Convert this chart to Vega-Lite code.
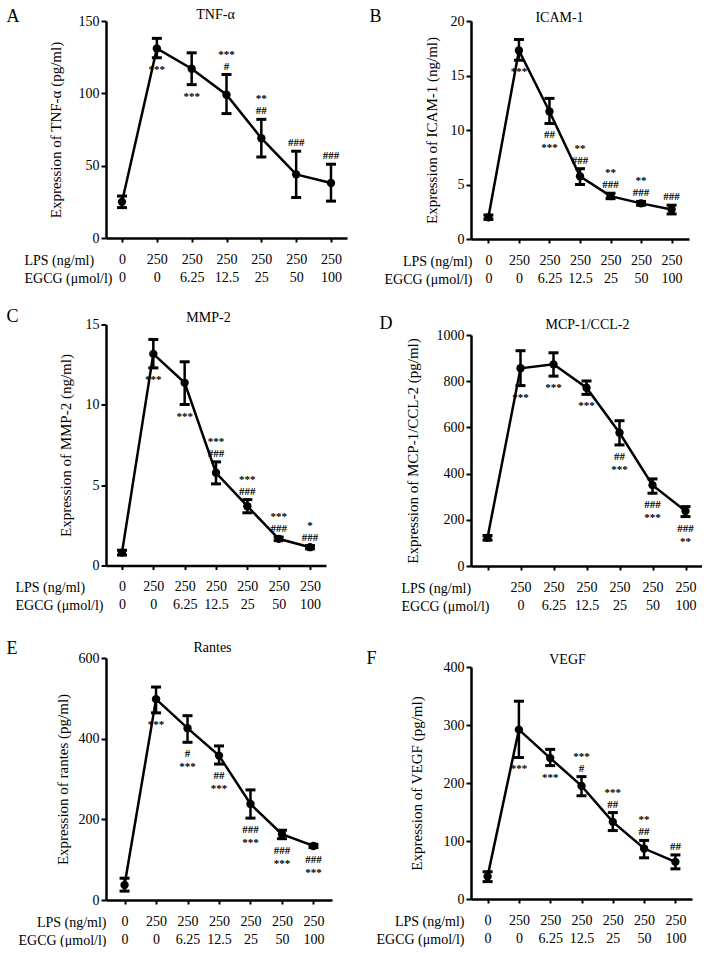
{
"$schema":"https://vega.github.io/schema/vega-lite/v6.json",
"background":"white",
"padding":{"left":6,"top":-4,"right":0,"bottom":0},
"config":{"font":"Liberation Serif","view":{"stroke":null},
 "axis":{"grid":false,"domainColor":"black","tickColor":"black","labelColor":"black","titleColor":"black","titleFontWeight":"normal","domainWidth":2.5,"tickWidth":2,"labelFontSize":14,"titleFontSize":14},
 "axisX":{"labelAngle":0,"tickSize":4,"labelPadding":10,"labelBaseline":"top","labelLineHeight":18,"titleLineHeight":18,"titleBaseline":"top","titleY":15},
 "axisY":{"tickSize":5,"labelPadding":2,"titleFontSize":15,"titleBaseline":"middle"},
 "text":{"fontSize":11,"fontWeight":"bold","baseline":"middle","color":"black"}
},
"datasets":{
"A":[
{"g":"0|0","m":25,"lo":21,"hi":29,"u1":"","u2":"","d1":"","d2":""},
{"g":"250|0","m":131,"lo":124.6,"hi":138,"u1":"","u2":"","d1":"***","d2":""},
{"g":"250|6.25","m":117,"lo":106,"hi":128,"u1":"","u2":"","d1":"***","d2":""},
{"g":"250|12.5","m":99,"lo":86,"hi":113,"u1":"***","u2":"#","d1":"","d2":""},
{"g":"250|25","m":69,"lo":56,"hi":82,"u1":"**","u2":"##","d1":"","d2":""},
{"g":"250|50","m":44,"lo":28,"hi":60,"u1":"","u2":"###","d1":"","d2":""},
{"g":"250|100","m":38,"lo":25.5,"hi":51,"u1":"","u2":"###","d1":"","d2":""}],
"B":[
{"g":"0|0","m":2.0,"lo":1.8,"hi":2.2,"u1":"","u2":"","d1":"","d2":""},
{"g":"250|0","m":17.3,"lo":16.4,"hi":18.3,"u1":"","u2":"","d1":"***","d2":""},
{"g":"250|6.25","m":11.7,"lo":10.6,"hi":12.9,"u1":"","u2":"","d1":"##","d2":"***"},
{"g":"250|12.5","m":5.75,"lo":5.0,"hi":6.45,"u1":"**","u2":"###","d1":"","d2":""},
{"g":"250|25","m":3.93,"lo":3.7,"hi":4.2,"u1":"**","u2":"###","d1":"","d2":""},
{"g":"250|50","m":3.27,"lo":3.1,"hi":3.45,"u1":"**","u2":"###","d1":"","d2":""},
{"g":"250|100","m":2.7,"lo":2.3,"hi":3.1,"u1":"","u2":"###","d1":"","d2":""}],
"C":[
{"g":"0|0","m":0.8,"lo":0.65,"hi":0.95,"u1":"","u2":"","d1":"","d2":""},
{"g":"250|0","m":13.17,"lo":12.3,"hi":14.07,"u1":"","u2":"","d1":"***","d2":""},
{"g":"250|6.25","m":11.37,"lo":10.02,"hi":12.68,"u1":"","u2":"","d1":"***","d2":""},
{"g":"250|12.5","m":5.77,"lo":5.08,"hi":6.45,"u1":"***","u2":"###","d1":"","d2":""},
{"g":"250|25","m":3.69,"lo":3.28,"hi":4.1,"u1":"***","u2":"###","d1":"","d2":""},
{"g":"250|50","m":1.66,"lo":1.55,"hi":1.77,"u1":"***","u2":"###","d1":"","d2":""},
{"g":"250|100","m":1.14,"lo":1.04,"hi":1.24,"u1":"*","u2":"###","d1":"","d2":""}],
"D":[
{"g":" | ","m":122,"lo":112,"hi":132,"u1":"","u2":"","d1":"","d2":""},
{"g":"250|0","m":856,"lo":781,"hi":932,"u1":"","u2":"","d1":"***","d2":""},
{"g":"250|6.25","m":873,"lo":822,"hi":923,"u1":"","u2":"","d1":"***","d2":""},
{"g":"250|12.5","m":772,"lo":743,"hi":801,"u1":"","u2":"","d1":"***","d2":""},
{"g":"250|25","m":577,"lo":524,"hi":629,"u1":"","u2":"","d1":"##","d2":"***"},
{"g":"250|50","m":350,"lo":315,"hi":377,"u1":"","u2":"","d1":"###","d2":"***"},
{"g":"250|100","m":238,"lo":214,"hi":257,"u1":"","u2":"","d1":"###","d2":"**"}],
"E":[
{"g":"0|0","m":37,"lo":22,"hi":54,"u1":"","u2":"","d1":"","d2":""},
{"g":"250|0","m":498,"lo":464,"hi":528,"u1":"","u2":"","d1":"***","d2":""},
{"g":"250|6.25","m":426,"lo":391,"hi":457,"u1":"","u2":"","d1":"#","d2":"***"},
{"g":"250|12.5","m":358,"lo":337,"hi":382,"u1":"","u2":"","d1":"##","d2":"***"},
{"g":"250|25","m":238,"lo":203,"hi":273,"u1":"","u2":"","d1":"###","d2":"***"},
{"g":"250|50","m":163,"lo":152,"hi":173,"u1":"","u2":"","d1":"###","d2":"***"},
{"g":"250|100","m":134,"lo":130,"hi":138,"u1":"","u2":"","d1":"###","d2":"***"}],
"F":[
{"g":"0|0","m":39,"lo":30,"hi":47,"u1":"","u2":"","d1":"","d2":""},
{"g":"250|0","m":292,"lo":244,"hi":341,"u1":"","u2":"","d1":"***","d2":""},
{"g":"250|6.25","m":243,"lo":230,"hi":258,"u1":"","u2":"","d1":"***","d2":""},
{"g":"250|12.5","m":195,"lo":178,"hi":211,"u1":"***","u2":"#","d1":"","d2":""},
{"g":"250|25","m":133,"lo":118,"hi":149,"u1":"***","u2":"##","d1":"","d2":""},
{"g":"250|50","m":87,"lo":71,"hi":101,"u1":"**","u2":"##","d1":"","d2":""},
{"g":"250|100","m":64,"lo":52,"hi":76,"u1":"","u2":"##","d1":"","d2":""}]
},
"spacing":19,
"hconcat":[
{"spacing":18.5,"vconcat":[
{"width":241,"height":217,"data":{"name":"A"},
 "resolve":{"axis":{"x":"independent","y":"independent"}},
 "layer":[
  {"encoding":{"x":{"field":"g","type":"ordinal","sort":null,"scale":{"type":"point","padding":0.46},"axis":{"labelExpr":"split(datum.label,'|')","title":["LPS (ng/ml)","EGCG (μmol/l)"],"titleX":-82,"titleAlign":"left"}}},
   "layer":[
    {"mark":{"type":"line","color":"black","strokeWidth":2.5},"encoding":{"y":{"field":"m","type":"quantitative","scale":{"domain":[0,150],"nice":false},"axis":{"values":[0,50,100,150],"title":"Expression of TNF-α (pg/ml)","titleX":-51}}}},
    {"mark":{"type":"rule","color":"black","strokeWidth":2.5},"encoding":{"y":{"field":"lo","type":"quantitative"},"y2":{"field":"hi"}}},
    {"mark":{"type":"tick","color":"black","thickness":3,"size":10,"opacity":1},"encoding":{"y":{"field":"lo","type":"quantitative"}}},
    {"mark":{"type":"tick","color":"black","thickness":3,"size":10,"opacity":1},"encoding":{"y":{"field":"hi","type":"quantitative"}}},
    {"mark":{"type":"point","filled":true,"color":"black","opacity":1,"size":70},"encoding":{"y":{"field":"m","type":"quantitative"}}},
    {"mark":{"type":"text","dy":-20},"encoding":{"y":{"field":"hi","type":"quantitative"},"text":{"field":"u1"}}},
    {"mark":{"type":"text","dy":-8},"encoding":{"y":{"field":"hi","type":"quantitative"},"text":{"field":"u2"}}},
    {"mark":{"type":"text","dy":12},"encoding":{"y":{"field":"lo","type":"quantitative"},"text":{"field":"d1"}}},
    {"mark":{"type":"text","dy":25},"encoding":{"y":{"field":"lo","type":"quantitative"},"text":{"field":"d2"}}}
   ]},
  {"mark":{"type":"point","opacity":0},"encoding":{
    "x":{"field":"g","type":"ordinal","sort":null,"scale":{"type":"point","padding":0.46},"axis":{"orient":"top","domain":false,"ticks":true,"tickOpacity":0,"tickSize":25,"labels":false,"title":"TNF-α","titleX":109,"titleY":-3,"titleAlign":"center","titleBaseline":"alphabetic","titleFontSize":14}},
    "y":{"field":"m","type":"quantitative","scale":{"domain":[0,150],"nice":false},"axis":{"orient":"right","domain":false,"ticks":false,"labels":false,"title":"A","titleX":-341,"titleY":0,"titleAngle":0,"titleAlign":"left","titleBaseline":"alphabetic","titleFontSize":18}}}}
 ]},
{"width":220,"height":241,"data":{"name":"C"},
 "resolve":{"axis":{"x":"independent","y":"independent"}},
 "layer":[
  {"encoding":{"x":{"field":"g","type":"ordinal","sort":null,"scale":{"type":"point","padding":0.51},"axis":{"labelExpr":"split(datum.label,'|')","title":["LPS (ng/ml)","EGCG (μmol/l)"],"titleX":-91,"titleAlign":"left"}}},
   "layer":[
    {"mark":{"type":"line","color":"black","strokeWidth":2.5},"encoding":{"y":{"field":"m","type":"quantitative","scale":{"domain":[0,15],"nice":false},"axis":{"values":[0,5,10,15],"title":"Expression of MMP-2 (ng/ml)","titleX":-41}}}},
    {"mark":{"type":"rule","color":"black","strokeWidth":2.5},"encoding":{"y":{"field":"lo","type":"quantitative"},"y2":{"field":"hi"}}},
    {"mark":{"type":"tick","color":"black","thickness":3,"size":10,"opacity":1},"encoding":{"y":{"field":"lo","type":"quantitative"}}},
    {"mark":{"type":"tick","color":"black","thickness":3,"size":10,"opacity":1},"encoding":{"y":{"field":"hi","type":"quantitative"}}},
    {"mark":{"type":"point","filled":true,"color":"black","opacity":1,"size":70},"encoding":{"y":{"field":"m","type":"quantitative"}}},
    {"mark":{"type":"text","dy":-20},"encoding":{"y":{"field":"hi","type":"quantitative"},"text":{"field":"u1"}}},
    {"mark":{"type":"text","dy":-8},"encoding":{"y":{"field":"hi","type":"quantitative"},"text":{"field":"u2"}}},
    {"mark":{"type":"text","dy":12},"encoding":{"y":{"field":"lo","type":"quantitative"},"text":{"field":"d1"}}},
    {"mark":{"type":"text","dy":25},"encoding":{"y":{"field":"lo","type":"quantitative"},"text":{"field":"d2"}}}
   ]},
  {"mark":{"type":"point","opacity":0},"encoding":{
    "x":{"field":"g","type":"ordinal","sort":null,"scale":{"type":"point","padding":0.51},"axis":{"orient":"top","domain":false,"ticks":true,"tickOpacity":0,"tickSize":21,"labels":false,"title":"MMP-2","titleX":102,"titleY":-3,"titleAlign":"center","titleBaseline":"alphabetic","titleFontSize":14}},
    "y":{"field":"m","type":"quantitative","scale":{"domain":[0,15],"nice":false},"axis":{"orient":"right","domain":false,"ticks":false,"labels":false,"title":"C","titleX":-320,"titleY":-3,"titleAngle":0,"titleAlign":"left","titleBaseline":"alphabetic","titleFontSize":18}}}}
 ]},
{"width":226,"height":242,"data":{"name":"E"},
 "resolve":{"axis":{"x":"independent","y":"independent"}},
 "layer":[
  {"encoding":{"x":{"field":"g","type":"ordinal","sort":null,"scale":{"type":"point","padding":0.59},"axis":{"labelExpr":"split(datum.label,'|')","title":["LPS (ng/ml)","EGCG (μmol/l)"],"titleX":0,"titleAlign":"right"}}},
   "layer":[
    {"mark":{"type":"line","color":"black","strokeWidth":2.5},"encoding":{"y":{"field":"m","type":"quantitative","scale":{"domain":[0,600],"nice":false},"axis":{"values":[0,200,400,600],"title":"Expression of rantes (pg/ml)","titleX":-44}}}},
    {"mark":{"type":"rule","color":"black","strokeWidth":2.5},"encoding":{"y":{"field":"lo","type":"quantitative"},"y2":{"field":"hi"}}},
    {"mark":{"type":"tick","color":"black","thickness":3,"size":10,"opacity":1},"encoding":{"y":{"field":"lo","type":"quantitative"}}},
    {"mark":{"type":"tick","color":"black","thickness":3,"size":10,"opacity":1},"encoding":{"y":{"field":"hi","type":"quantitative"}}},
    {"mark":{"type":"point","filled":true,"color":"black","opacity":1,"size":70},"encoding":{"y":{"field":"m","type":"quantitative"}}},
    {"mark":{"type":"text","dy":-20},"encoding":{"y":{"field":"hi","type":"quantitative"},"text":{"field":"u1"}}},
    {"mark":{"type":"text","dy":-8},"encoding":{"y":{"field":"hi","type":"quantitative"},"text":{"field":"u2"}}},
    {"mark":{"type":"text","dy":12},"encoding":{"y":{"field":"lo","type":"quantitative"},"text":{"field":"d1"}}},
    {"mark":{"type":"text","dy":25},"encoding":{"y":{"field":"lo","type":"quantitative"},"text":{"field":"d2"}}}
   ]},
  {"mark":{"type":"point","opacity":0},"encoding":{
    "x":{"field":"g","type":"ordinal","sort":null,"scale":{"type":"point","padding":0.59},"axis":{"orient":"top","domain":false,"ticks":true,"tickOpacity":0,"tickSize":27,"labels":false,"title":"Rantes","titleX":106,"titleY":-7,"titleAlign":"center","titleBaseline":"alphabetic","titleFontSize":14}},
    "y":{"field":"m","type":"quantitative","scale":{"domain":[0,600],"nice":false},"axis":{"orient":"right","domain":false,"ticks":false,"labels":false,"title":"E","titleX":-326,"titleY":-5,"titleAngle":0,"titleAlign":"left","titleBaseline":"alphabetic","titleFontSize":18}}}}
 ]}
]},
{"spacing":28,"vconcat":[
{"width":218,"height":218,"data":{"name":"B"},
 "resolve":{"axis":{"x":"independent","y":"independent"}},
 "layer":[
  {"encoding":{"x":{"field":"g","type":"ordinal","sort":null,"scale":{"type":"point","padding":0.57},"axis":{"labelExpr":"split(datum.label,'|')","title":["LPS (ng/ml)","EGCG (μmol/l)"],"titleX":1,"titleAlign":"right"}}},
   "layer":[
    {"mark":{"type":"line","color":"black","strokeWidth":2.5},"encoding":{"y":{"field":"m","type":"quantitative","scale":{"domain":[0,20],"nice":false},"axis":{"values":[0,5,10,15,20],"title":"Expression of ICAM-1 (ng/ml)","titleX":-40}}}},
    {"mark":{"type":"rule","color":"black","strokeWidth":2.5},"encoding":{"y":{"field":"lo","type":"quantitative"},"y2":{"field":"hi"}}},
    {"mark":{"type":"tick","color":"black","thickness":3,"size":10,"opacity":1},"encoding":{"y":{"field":"lo","type":"quantitative"}}},
    {"mark":{"type":"tick","color":"black","thickness":3,"size":10,"opacity":1},"encoding":{"y":{"field":"hi","type":"quantitative"}}},
    {"mark":{"type":"point","filled":true,"color":"black","opacity":1,"size":70},"encoding":{"y":{"field":"m","type":"quantitative"}}},
    {"mark":{"type":"text","dy":-20},"encoding":{"y":{"field":"hi","type":"quantitative"},"text":{"field":"u1"}}},
    {"mark":{"type":"text","dy":-8},"encoding":{"y":{"field":"hi","type":"quantitative"},"text":{"field":"u2"}}},
    {"mark":{"type":"text","dy":12},"encoding":{"y":{"field":"lo","type":"quantitative"},"text":{"field":"d1"}}},
    {"mark":{"type":"text","dy":25},"encoding":{"y":{"field":"lo","type":"quantitative"},"text":{"field":"d2"}}}
   ]},
  {"mark":{"type":"point","opacity":0},"encoding":{
    "x":{"field":"g","type":"ordinal","sort":null,"scale":{"type":"point","padding":0.57},"axis":{"orient":"top","domain":false,"ticks":true,"tickOpacity":0,"tickSize":17,"labels":false,"title":"ICAM-1","titleX":88,"titleY":0,"titleAlign":"center","titleBaseline":"alphabetic","titleFontSize":14}},
    "y":{"field":"m","type":"quantitative","scale":{"domain":[0,20],"nice":false},"axis":{"orient":"right","domain":false,"ticks":false,"labels":false,"title":"B","titleX":-320,"titleY":0,"titleAngle":0,"titleAlign":"left","titleBaseline":"alphabetic","titleFontSize":18}}}}
 ]},
{"width":231,"height":231,"data":{"name":"D"},
 "resolve":{"axis":{"x":"independent","y":"independent"}},
 "layer":[
  {"encoding":{"x":{"field":"g","type":"ordinal","sort":null,"scale":{"type":"point","padding":0.5},"axis":{"labelExpr":"split(datum.label,'|')","title":["LPS (ng/ml)","EGCG (μmol/l)"],"titleX":-70,"titleAlign":"left"}}},
   "layer":[
    {"mark":{"type":"line","color":"black","strokeWidth":2.5},"encoding":{"y":{"field":"m","type":"quantitative","scale":{"domain":[0,1000],"nice":false},"axis":{"values":[0,200,400,600,800,1000],"format":"d","title":"Expression of MCP-1/CCL-2 (pg/ml)","titleX":-59}}}},
    {"mark":{"type":"rule","color":"black","strokeWidth":2.5},"encoding":{"y":{"field":"lo","type":"quantitative"},"y2":{"field":"hi"}}},
    {"mark":{"type":"tick","color":"black","thickness":3,"size":10,"opacity":1},"encoding":{"y":{"field":"lo","type":"quantitative"}}},
    {"mark":{"type":"tick","color":"black","thickness":3,"size":10,"opacity":1},"encoding":{"y":{"field":"hi","type":"quantitative"}}},
    {"mark":{"type":"point","filled":true,"color":"black","opacity":1,"size":70},"encoding":{"y":{"field":"m","type":"quantitative"}}},
    {"mark":{"type":"text","dy":-20},"encoding":{"y":{"field":"hi","type":"quantitative"},"text":{"field":"u1"}}},
    {"mark":{"type":"text","dy":-8},"encoding":{"y":{"field":"hi","type":"quantitative"},"text":{"field":"u2"}}},
    {"mark":{"type":"text","dy":12},"encoding":{"y":{"field":"lo","type":"quantitative"},"text":{"field":"d1"}}},
    {"mark":{"type":"text","dy":25},"encoding":{"y":{"field":"lo","type":"quantitative"},"text":{"field":"d2"}}}
   ]},
  {"mark":{"type":"point","opacity":0},"encoding":{
    "x":{"field":"g","type":"ordinal","sort":null,"scale":{"type":"point","padding":0.5},"axis":{"orient":"top","domain":false,"ticks":true,"tickOpacity":0,"tickSize":21,"labels":false,"title":"MCP-1/CCL-2","titleX":116,"titleY":-7,"titleAlign":"center","titleBaseline":"alphabetic","titleFontSize":14}},
    "y":{"field":"m","type":"quantitative","scale":{"domain":[0,1000],"nice":false},"axis":{"orient":"right","domain":false,"ticks":false,"labels":false,"title":"D","titleX":-323,"titleY":-7,"titleAngle":0,"titleAlign":"left","titleBaseline":"alphabetic","titleFontSize":18}}}}
 ]},
{"width":221,"height":232,"data":{"name":"F"},
 "resolve":{"axis":{"x":"independent","y":"independent"}},
 "layer":[
  {"encoding":{"x":{"field":"g","type":"ordinal","sort":null,"scale":{"type":"point","padding":0.53},"axis":{"labelExpr":"split(datum.label,'|')","title":["LPS (ng/ml)","EGCG (μmol/l)"],"titleX":-7,"titleAlign":"right"}}},
   "layer":[
    {"mark":{"type":"line","color":"black","strokeWidth":2.5},"encoding":{"y":{"field":"m","type":"quantitative","scale":{"domain":[0,400],"nice":false},"axis":{"values":[0,100,200,300,400],"title":"Expression of VEGF (pg/ml)","titleX":-55}}}},
    {"mark":{"type":"rule","color":"black","strokeWidth":2.5},"encoding":{"y":{"field":"lo","type":"quantitative"},"y2":{"field":"hi"}}},
    {"mark":{"type":"tick","color":"black","thickness":3,"size":10,"opacity":1},"encoding":{"y":{"field":"lo","type":"quantitative"}}},
    {"mark":{"type":"tick","color":"black","thickness":3,"size":10,"opacity":1},"encoding":{"y":{"field":"hi","type":"quantitative"}}},
    {"mark":{"type":"point","filled":true,"color":"black","opacity":1,"size":70},"encoding":{"y":{"field":"m","type":"quantitative"}}},
    {"mark":{"type":"text","dy":-20},"encoding":{"y":{"field":"hi","type":"quantitative"},"text":{"field":"u1"}}},
    {"mark":{"type":"text","dy":-8},"encoding":{"y":{"field":"hi","type":"quantitative"},"text":{"field":"u2"}}},
    {"mark":{"type":"text","dy":12},"encoding":{"y":{"field":"lo","type":"quantitative"},"text":{"field":"d1"}}},
    {"mark":{"type":"text","dy":25},"encoding":{"y":{"field":"lo","type":"quantitative"},"text":{"field":"d2"}}}
   ]},
  {"mark":{"type":"point","opacity":0},"encoding":{
    "x":{"field":"g","type":"ordinal","sort":null,"scale":{"type":"point","padding":0.53},"axis":{"orient":"top","domain":false,"ticks":true,"tickOpacity":0,"tickSize":26,"labels":false,"title":"VEGF","titleX":96,"titleY":-4,"titleAlign":"center","titleBaseline":"alphabetic","titleFontSize":14}},
    "y":{"field":"m","type":"quantitative","scale":{"domain":[0,400],"nice":false},"axis":{"orient":"right","domain":false,"ticks":false,"labels":false,"title":"F","titleX":-326,"titleY":-4,"titleAngle":0,"titleAlign":"left","titleBaseline":"alphabetic","titleFontSize":18}}}}
 ]}
]}
]
}
